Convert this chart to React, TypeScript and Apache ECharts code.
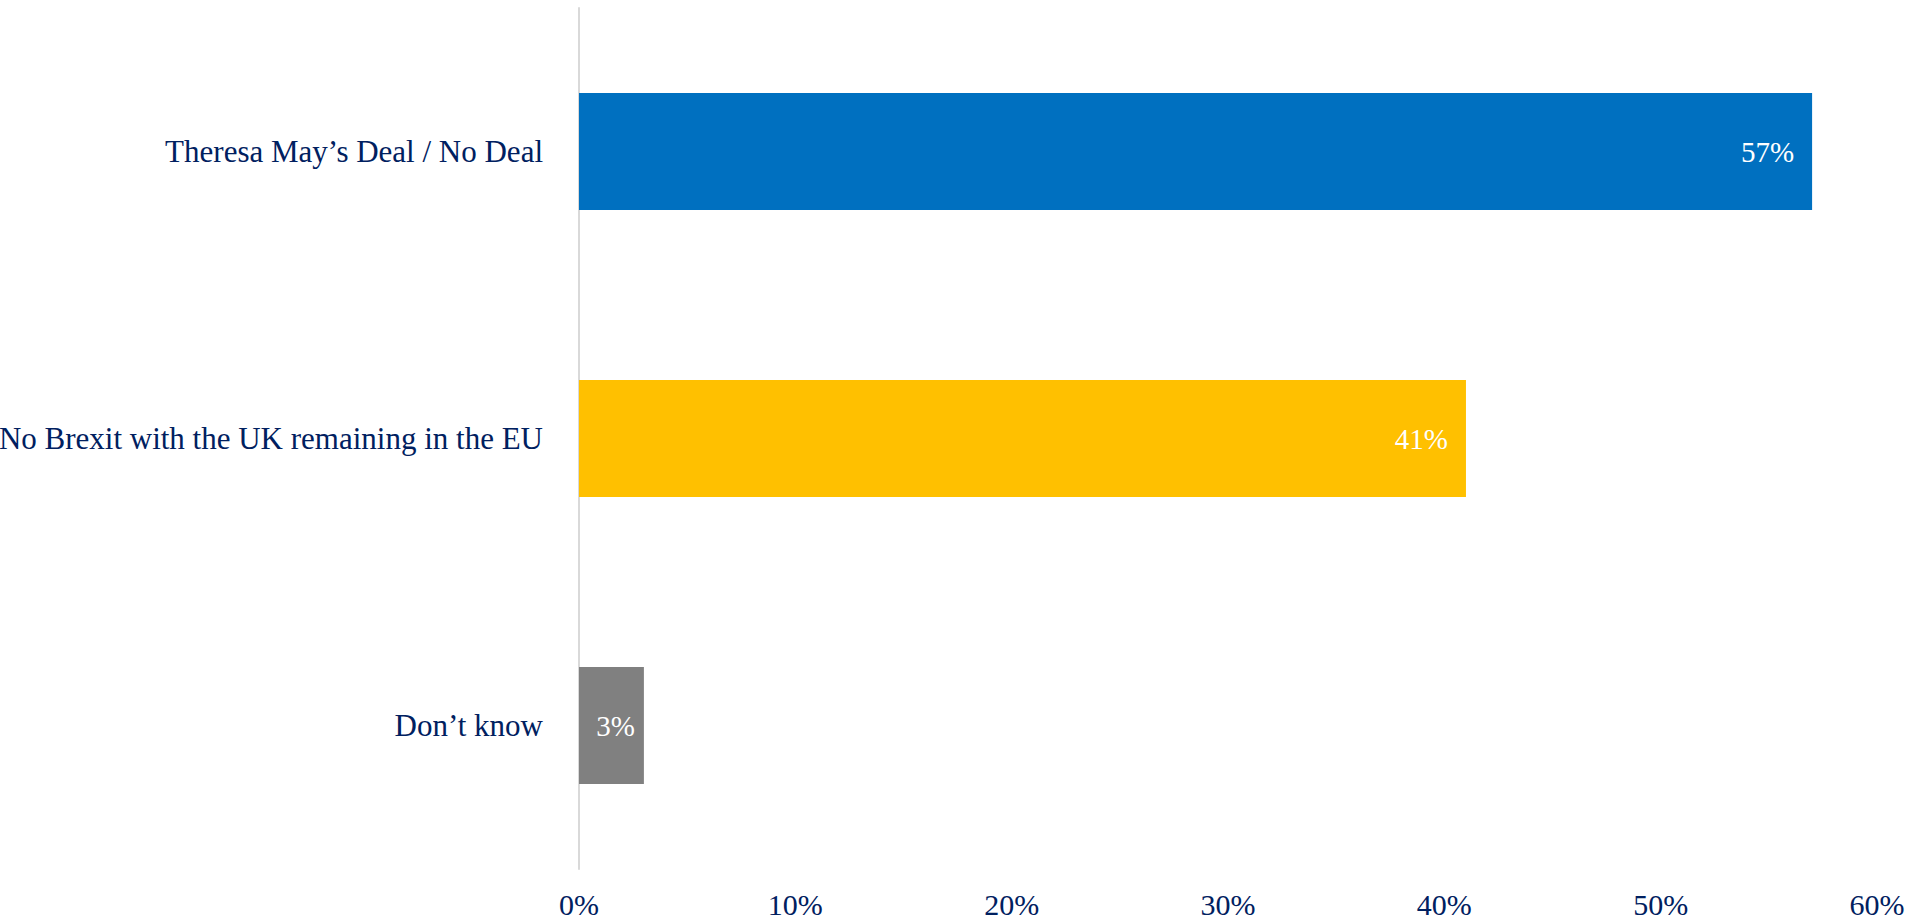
import React, { useEffect, useRef } from "react";
import * as echarts from "echarts";

const categories = [
  "Theresa May\u2019s Deal / No Deal",
  "No Brexit with the UK remaining in the EU",
  "Don\u2019t know",
];
const values = [57, 41, 3];
const barColors = ["#0070C0", "#FFC000", "#808080"];
const labelDistances = [18, 18, 9];
const xTicks = [0, 10, 20, 30, 40, 50, 60];

export default function App() {
  const ref = useRef<HTMLDivElement>(null);
  useEffect(() => {
    if (!ref.current) return;
    const chart = echarts.init(ref.current, null, { renderer: "svg" });
    const font = "'Liberation Serif', 'DejaVu Serif', serif";
    chart.setOption({
      animation: false,
      grid: {
        left: 579,
        right: 32,
        top: 8,
        bottom: 51,
        containLabel: false,
        outerBoundsMode: "none",
      },
      xAxis: {
        type: "value",
        min: xTicks[0],
        max: xTicks[xTicks.length - 1],
        interval: 10,
        splitLine: { show: false },
        axisLine: { show: false },
        axisTick: { show: false },
        axisLabel: {
          formatter: "{value}%",
          color: "#002060",
          fontFamily: font,
          fontSize: 30,
          margin: 20,
        },
      },
      yAxis: {
        type: "category",
        inverse: true,
        data: categories,
        axisLine: { show: true, lineStyle: { color: "#D9D9D9", width: 2 } },
        axisTick: { show: false },
        axisLabel: {
          color: "#002060",
          fontFamily: font,
          fontSize: 31,
          margin: 36,
        },
      },
      series: [
        {
          type: "bar",
          barWidth: "40.8%",
          data: values.map((v, i) => ({
            value: v,
            itemStyle: { color: barColors[i] },
            label: { distance: labelDistances[i] },
          })),
          label: {
            show: true,
            position: "insideRight",
            formatter: "{c}%",
            color: "#FFFFFF",
            fontFamily: font,
            fontSize: 29,
          },
        },
      ],
    });
    return () => chart.dispose();
  }, []);
  return <div ref={ref} style={{ width: 1909, height: 920, position: "absolute", left: 0, top: 0 }} />;
}
